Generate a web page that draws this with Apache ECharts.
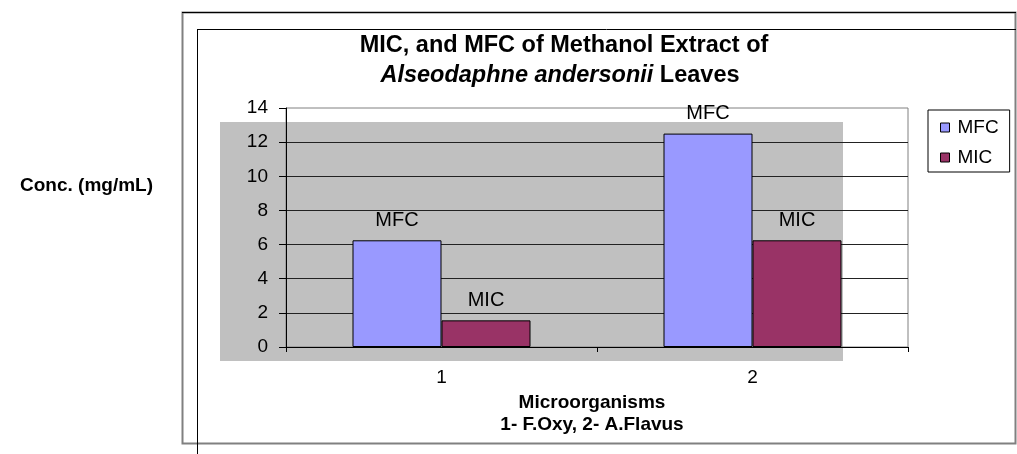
<!DOCTYPE html>
<html>
<head>
<meta charset="utf-8">
<script src="https://cdn.jsdelivr.net/npm/echarts@6/dist/echarts.min.js"></script>
<style>
  html, body { margin: 0; padding: 0; background: #fff; }
  #chart { width: 1017px; height: 454px; }
</style>
</head>
<body>
<div id="chart"></div>
<script>
// data
var categories = ['1', '2']
var mfcValues = [6.25, 12.5]
var micValues = [1.56, 6.25]
var seriesNames = ['MFC', 'MIC']

var FONT = '"Liberation Sans", Arial, sans-serif'

var chart = echarts.init(document.getElementById('chart'))

var option = {
  animation: false,
  color: ['#9999FF', '#993366'],
  title: [
    {
      text: 'MIC, and MFC of Methanol Extract of',
      left: 564,
      top: 32,
      textAlign: 'center',
      padding: 0,
      textStyle: { fontFamily: FONT, fontSize: 23.5, fontWeight: 'bold', color: '#000', lineHeight: 27 }
    },
    {
      text: '{i|Alseodaphne andersonii}{b| Leaves}',
      left: 560,
      top: 62,
      textAlign: 'center',
      padding: 0,
      textStyle: {
        fontFamily: FONT,
        fontSize: 23.5,
        color: '#000',
        rich: {
          i: { fontFamily: FONT, fontSize: 23.5, fontWeight: 'bold', fontStyle: 'italic', color: '#000', lineHeight: 27 },
          b: { fontFamily: FONT, fontSize: 23.5, fontWeight: 'bold', color: '#000', lineHeight: 27 }
        }
      }
    }
  ],
  legend: {
    orient: 'vertical',
    left: 928,
    top: 110,
    padding: [8, 11, 5, 12],
    itemGap: 11,
    itemWidth: 9,
    itemHeight: 9,
    icon: 'rect',
    borderColor: '#000',
    borderWidth: 1,
    itemStyle: { borderColor: '#000', borderWidth: 1 },
    textStyle: { fontFamily: FONT, fontSize: 19, color: '#000', padding: [0, 0, 0, 3] },
    data: seriesNames
  },
  grid: {
    left: 286,
    right: 109,
    top: 108,
    bottom: 107,
    show: true,
    borderColor: '#808080',
    borderWidth: 1,
    backgroundColor: 'transparent',
    containLabel: false
  },
  xAxis: {
    type: 'category',
    data: categories,
    name: 'Microorganisms\n1- F.Oxy, 2- A.Flavus',
    nameLocation: 'middle',
    nameGap: 42,
    nameTextStyle: { fontFamily: FONT, fontSize: 19, fontWeight: 'bold', color: '#000', lineHeight: 22, padding: [0, 10, 0, 0] },
    axisLine: { lineStyle: { color: '#000', width: 1 } },
    axisTick: { show: true, length: 5, alignWithLabel: false, lineStyle: { color: '#000' } },
    axisLabel: { fontFamily: FONT, fontSize: 19, color: '#000', margin: 21 },
    splitLine: { show: false }
  },
  yAxis: {
    type: 'value',
    min: 0,
    max: 14,
    interval: 2,
    axisLine: { show: true, lineStyle: { color: '#000', width: 1 } },
    axisTick: { show: true, length: 7, lineStyle: { color: '#000' } },
    axisLabel: { fontFamily: FONT, fontSize: 19, color: '#000', margin: 18 },
    splitLine: { show: true, showMaxLine: false, lineStyle: { color: '#222', width: 1 } }
  },
  graphic: [
    // grey plot-area fill (Excel style, offset from axes)
    { type: 'rect', z: -10, shape: { x: 220, y: 122, width: 623, height: 239 }, style: { fill: '#C0C0C0' }, silent: true },
    // outer chart frame
    { type: 'rect', z: -5, shape: { x: 182.5, y: 12.5, width: 833, height: 431 }, style: { fill: 'none', stroke: '#808080', lineWidth: 2 }, silent: true },
    { type: 'line', z: -4, shape: { x1: 182, y1: 12.5, x2: 1016, y2: 12.5 }, style: { stroke: '#000', lineWidth: 1 }, silent: true },
    { type: 'line', z: -4, shape: { x1: 197.5, y1: 29, x2: 197.5, y2: 454 }, style: { stroke: '#000', lineWidth: 1 }, silent: true },
    { type: 'line', z: -4, shape: { x1: 197, y1: 29.5, x2: 1016, y2: 29.5 }, style: { stroke: '#000', lineWidth: 1 }, silent: true },
    // y axis title, sits outside the frame
    {
      type: 'text',
      x: 153,
      y: 186,
      style: {
        text: 'Conc. (mg/mL)',
        align: 'right',
        verticalAlign: 'middle',
        fontFamily: FONT,
        fontSize: 19,
        fontWeight: 'bold',
        fill: '#000'
      }
    }
  ],
  series: [
    {
      name: seriesNames[0],
      type: 'bar',
      data: mfcValues,
      barWidth: 89,
      barGap: '0%',
      itemStyle: { borderColor: '#000', borderWidth: 1 },
      label: { show: true, position: 'top', distance: 10, formatter: '{a}', fontFamily: FONT, fontSize: 20, color: '#000' }
    },
    {
      name: seriesNames[1],
      type: 'bar',
      data: micValues,
      barWidth: 89,
      barGap: '0%',
      itemStyle: { borderColor: '#000', borderWidth: 1 },
      label: { show: true, position: 'top', distance: 10, formatter: '{a}', fontFamily: FONT, fontSize: 20, color: '#000' }
    }
  ]
}

chart.setOption(option)
window.addEventListener('resize', () => {
  chart.resize()
})
</script>
</body>
</html>
